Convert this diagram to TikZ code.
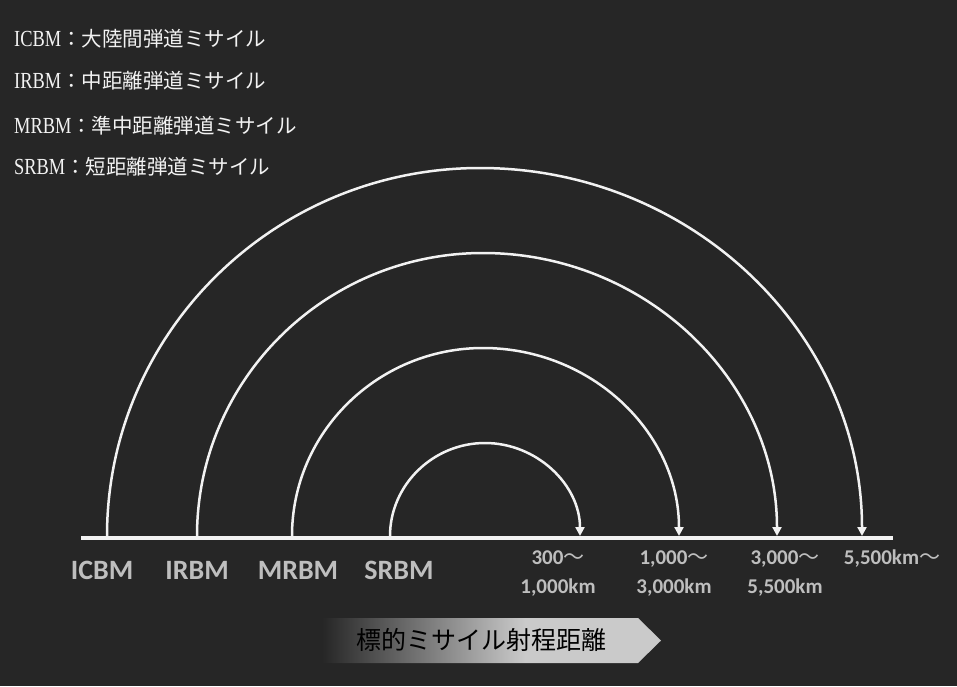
\documentclass[tikz,border=0pt]{standalone}
\usepackage{fontspec}
\setmainfont{Carlito}
\newfontfamily\cjk{Noto Sans CJK JP}
\newfontfamily\serifnarrow[FakeStretch=0.8]{Liberation Serif}
\usetikzlibrary{arrows.meta,positioning}
\definecolor{bgdark}{RGB}{38,38,38}
\definecolor{linewhite}{RGB}{242,242,242}
\definecolor{labelgray}{RGB}{190,190,190}
\definecolor{bannerlight}{RGB}{202,202,202}
\pgfdeclarehorizontalshading{banner}{100bp}{color(0bp)=(bgdark); color(25bp)=(bgdark); color(55bp)=(bannerlight); color(100bp)=(bannerlight)}
\newcommand{\abbr}[1]{{\serifnarrow\fontsize{23}{24}\selectfont #1}}
\newcommand{\wave}{{\cjk\mdseries ～}}
\tikzset{
    legendtext/.style={
    anchor=west,inner sep=0pt,text=linewhite,font=\cjk\fontsize{20.5}{24}\selectfont
    },
    kind/.style={
    text=labelgray,font=\fontsize{28}{32}\selectfont\bfseries
    },
    rangetext/.style={
    align=center,text=labelgray,font=\fontsize{21}{29}\selectfont\bfseries
    },
    flight/.style={
    draw=linewhite,line width=2.5pt,-{Triangle[width=9pt,length=9pt]}
    },
    ground/.style={
    draw=linewhite,line width=4pt
    },
}
\begin{document}
\begin{tikzpicture}[x=1pt,y=-1pt]
   \fill[bgdark] (0,0) rectangle (957,686);
   \useasboundingbox (0,0) rectangle (957,686);

   % legend
   \node[legendtext] (lgicbm) at (14,39) {\abbr{ICBM}：大陸間弾道ミサイル};
   \node[legendtext] (lgirbm) at (14,81) {\abbr{IRBM}：中距離弾道ミサイル};
   \node[legendtext] (lgmrbm) at (14,126) {\abbr{MRBM}：準中距離弾道ミサイル};
   \node[legendtext] (lgsrbm) at (14,167) {\abbr{SRBM}：短距離弾道ミサイル};

   % ground line
   \coordinate (gl) at (81,538);
   \coordinate (gr) at (893,538);
   \draw[ground] (gl) -- (gr);

   % launch points, tops, landing points
   \coordinate (icbm-s) at (107,536);
   \coordinate (icbm-t) at (480,168);
   \coordinate (icbm-e) at (862,536);
   \coordinate (irbm-s) at (197,536);
   \coordinate (irbm-t) at (483,253);
   \coordinate (irbm-e) at (777,536);
   \coordinate (mrbm-s) at (292,536);
   \coordinate (mrbm-t) at (483,348);
   \coordinate (mrbm-e) at (679,536);
   \coordinate (srbm-s) at (390,536);
   \coordinate (srbm-t) at (485,443);
   \coordinate (srbm-e) at (580,536);

   \draw[flight] (icbm-s) .. controls +(0,-203) and +(-206,0) .. (icbm-t)
                          .. controls +(211,0) and +(0,-203) .. (icbm-e);
   \draw[flight] (irbm-s) .. controls +(0,-156) and +(-158,0) .. (irbm-t)
                          .. controls +(162,0) and +(0,-156) .. (irbm-e);
   \draw[flight] (mrbm-s) .. controls +(0,-104) and +(-105,0) .. (mrbm-t)
                          .. controls +(108,0) and +(0,-104) .. (mrbm-e);
   \draw[flight] (srbm-s) .. controls +(0,-51) and +(-52,0) .. (srbm-t)
                          .. controls +(52,0) and +(0,-51) .. (srbm-e);

   % missile kinds
   \node[kind] (icbm) at (102,570) {ICBM};
   \node[kind] (irbm) at (197,570) {IRBM};
   \node[kind] (mrbm) at (298,570) {MRBM};
   \node[kind] (srbm) at (399,570) {SRBM};

   % ranges
   \node[rangetext] (r1) at (558,573.5) {300\wave\\1,000km};
   \node[rangetext] (r2) at (674,573.5) {1,000\wave\\3,000km};
   \node[rangetext] (r3) at (785,573.5) {3,000\wave\\5,500km};
   \node[rangetext] (r4) at (892,559) {5,500km\wave};

   % banner
   \shade[shading=banner] (322,618) -- (638,618) -- (661,640.5) -- (638,663) -- (322,663) -- cycle;
   \node[font=\cjk\fontsize{25}{28}\selectfont,text=black] (title) at (481,640) {標的ミサイル射程距離};
\end{tikzpicture}
\end{document}
